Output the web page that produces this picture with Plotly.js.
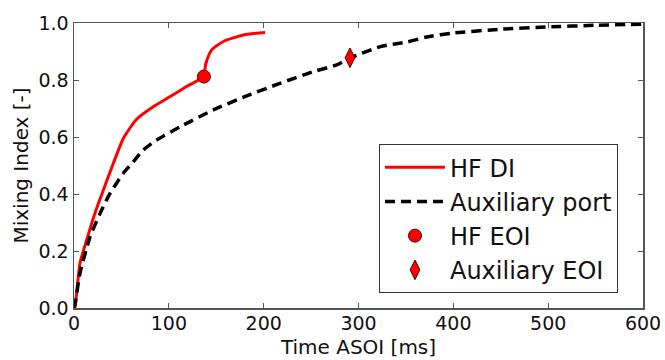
<!DOCTYPE html>
<html>
<head>
<meta charset="utf-8">
<script src="https://cdn.plot.ly/plotly-3.0.1.min.js"></script>
<style>html,body{margin:0;padding:0;background:#fff;}#chart{width:665px;height:360px;}</style>
</head>
<body>
<div id="chart"></div>
<script>
// HF DI (red solid)
const hfX = [0, 1, 6.3, 13.3, 22, 31, 41.5, 52, 66, 83.5, 101, 118.6, 136.4, 139, 145, 157.5, 178.6, 201.5];
const hfY = [0, 0.005, 0.157, 0.238, 0.332, 0.414, 0.508, 0.595, 0.662, 0.706, 0.741, 0.777, 0.812, 0.858, 0.905, 0.935, 0.958, 0.967];
// Auxiliary port (black dashed)
const auxX = [0, 1, 6.3, 17, 27.5, 38, 52, 62.5, 73, 87, 112, 147, 182, 217, 252, 277, 291, 323, 351, 372, 400, 450, 499, 550, 600];
const auxY = [0, 0.01, 0.122, 0.25, 0.332, 0.402, 0.473, 0.513, 0.554, 0.589, 0.636, 0.695, 0.744, 0.788, 0.829, 0.853, 0.877, 0.917, 0.933, 0.951, 0.965, 0.978, 0.986, 0.992, 0.996];
// End of injection markers
const hfEoiX = [137];
const hfEoiY = [0.812];
const auxEoiX = [291];
const auxEoiY = [0.878];
const names = ["HF DI", "Auxiliary port", "HF EOI", "Auxiliary EOI"];

const font = "DejaVu Sans, Liberation Sans, sans-serif";
const traces = [
  {x: hfX, y: hfY, name: names[0], mode: "lines", line: {color: "#ff0000", width: 3, shape: "spline", smoothing: 0.6}},
  {x: auxX, y: auxY, name: names[1], mode: "lines", line: {color: "#000000", width: 3.5, dash: "10px,6px", shape: "spline", smoothing: 0.6}},
  {x: hfEoiX, y: hfEoiY, name: names[2], mode: "markers", marker: {symbol: "circle", size: 13, color: "#ff0000", line: {color: "#550000", width: 1}}},
  {x: auxEoiX, y: auxEoiY, name: names[3], mode: "markers", marker: {symbol: "diamond-tall", size: 14, color: "#ff0000", line: {color: "#550000", width: 1}}}
];
const axisCommon = {
  showgrid: false, zeroline: false, showline: true, mirror: "allticks",
  linecolor: "#555", linewidth: 1.5, ticks: "inside", ticklen: 5, tickwidth: 1, tickcolor: "#555",
  tickfont: {family: font, size: 19, color: "#111"}
};
const layout = {
  width: 665, height: 360,
  margin: {l: 74, r: 22, t: 23, b: 52},
  paper_bgcolor: "#fff", plot_bgcolor: "#fff",
  font: {family: font, color: "#111"},
  showlegend: true,
  legend: {
    x: 0.536, y: 0.575, xanchor: "left", yanchor: "top",
    bgcolor: "#fff", bordercolor: "#333", borderwidth: 1,
    font: {family: font, size: 24, color: "#111"},
    itemwidth: 60, traceorder: "normal"
  },
  xaxis: Object.assign({}, axisCommon, {
    range: [0, 600], tickvals: [0, 100, 200, 300, 400, 500, 600],
    ticklabelstandoff: -2,
    title: {text: "Time ASOI [ms]", font: {family: font, size: 20, color: "#111"}, standoff: 6}
  }),
  yaxis: Object.assign({}, axisCommon, {
    range: [0, 1.0], tickvals: [0, 0.2, 0.4, 0.6, 0.8, 1.0], tickformat: ".1f",
    title: {text: "Mixing Index [-]", font: {family: font, size: 20, color: "#111"}, standoff: 4}
  })
};
Plotly.newPlot("chart", traces, layout, {displayModeBar: false, staticPlot: true});
</script>
</body>
</html>
